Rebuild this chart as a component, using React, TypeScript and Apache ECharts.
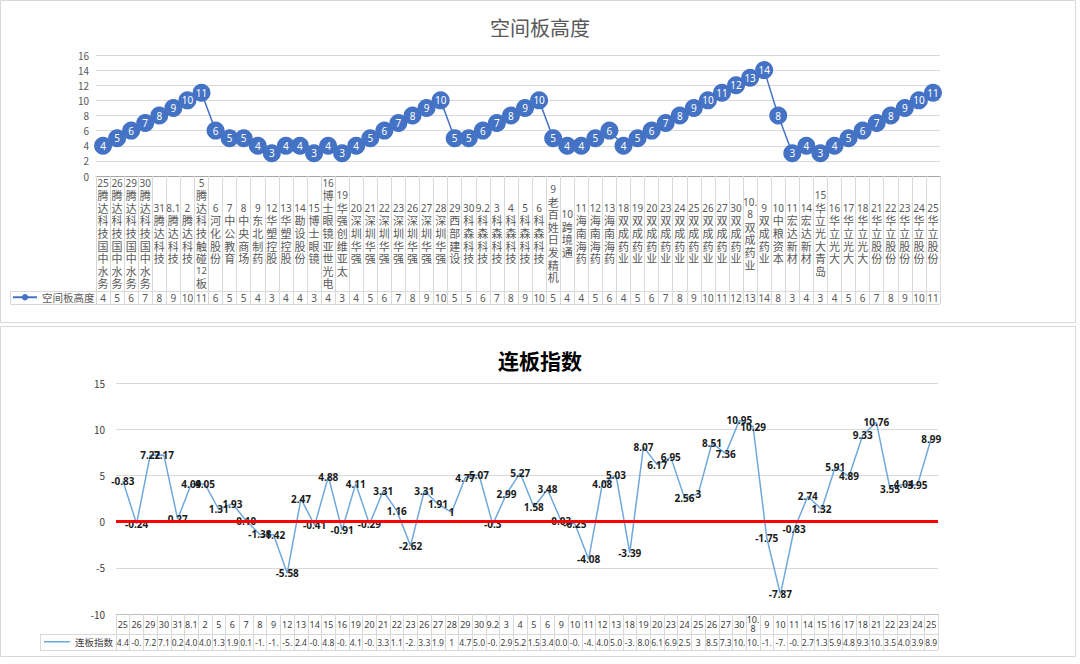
import React, { useEffect, useRef } from "react";
import * as echarts from "echarts";

const dates = ["25","26","29","30","31","8.1","2","5","6","7","8","9","12","13","14","15","16","19","20","21","22","23","26","27","28","29","30","9.2","3","4","5","6","9","10","11","12","13","18","19","20","23","24","25","26","27","30","10.8","9","10","11","14","15","16","17","18","21","22","23","24","25"];

const stocks = [
  "腾达科技国中水务","腾达科技国中水务","腾达科技国中水务","腾达科技国中水务",
  "腾达科技","腾达科技","腾达科技","腾达科技触碰12板",
  "河化股份","中公教育","中央商场","东北制药","华塑控股","华塑控股","勘设股份","博士眼镜","博士眼镜亚世光电",
  "华强创维亚太",
  "深圳华强","深圳华强","深圳华强","深圳华强","深圳华强","深圳华强","深圳华强",
  "西部建设",
  "科森科技","科森科技","科森科技","科森科技","科森科技","科森科技",
  "老百姓日发精机","跨境通",
  "海南海药","海南海药","海南海药",
  "双成药业","双成药业","双成药业","双成药业","双成药业","双成药业","双成药业","双成药业","双成药业",
  "双成药业","双成药业",
  "中粮资本","宏达新材","宏达新材",
  "华立光大青岛","华立光大","华立光大","华立光大",
  "华立股份","华立股份","华立股份","华立股份","华立股份"
];

const heights = [4,5,6,7,8,9,10,11,6,5,5,4,3,4,4,3,4,3,4,5,6,7,8,9,10,5,5,6,7,8,9,10,5,4,4,5,6,4,5,6,7,8,9,10,11,12,13,14,8,3,4,3,4,5,6,7,8,9,10,11];

const indexValues = [4.43,-0.24,7.22,7.17,0.27,4.09,4.05,1.31,1.93,0.10,-1.38,-1.42,-5.58,2.47,-0.41,4.88,-0.91,4.11,-0.29,3.31,1.16,-2.62,3.31,1.91,1,4.77,5.07,-0.3,2.99,5.27,1.58,3.48,0.03,-0.25,-4.08,4.08,5.03,-3.39,8.07,6.17,6.95,2.56,3,8.51,7.36,10.95,10.29,-1.75,-7.87,-0.83,2.74,1.32,5.91,4.89,9.33,10.76,3.55,4.04,3.95,8.99];

const pointLabels = ["-0.83","-0.24","7.22","7.17","0.27","4.09","4.05","1.31","1.93","0.10","-1.38","-1.42","-5.58","2.47","-0.41","4.88","-0.91","4.11","-0.29","3.31","1.16","-2.62","3.31","1.91","1","4.77","5.07","-0.3","2.99","5.27","1.58","3.48","0.03","-0.25","-4.08","4.08","5.03","-3.39","8.07","6.17","6.95","2.56","3","8.51","7.36","10.95","10.29","-1.75","-7.87","-0.83","2.74","1.32","5.91","4.89","9.33","10.76","3.55","4.04","3.95","8.99"];

const heightTicks = [0, 16, 2];
const indexTicks = [-10, 15, 5];

function fmtDate(d: string) {
  return d.length > 3 ? d.slice(0, 3) + "\n" + d.slice(3) : d;
}
function splitName(s: string) {
  const tokens: string[] = [];
  let buf = "";
  for (const ch of s) {
    if (/[0-9]/.test(ch)) {
      buf += ch;
    } else {
      if (buf) { tokens.push(buf); buf = ""; }
      tokens.push(ch);
    }
  }
  if (buf) tokens.push(buf);
  return tokens.map((t) => (/[0-9]/.test(t) ? "{n|" + t + "}" : "{c|" + t + "}")).join("\n");
}

const cats = dates.map((d, i) => d + " " + stocks[i] + " #" + i);

const CJK = "'Noto Sans CJK SC', 'Noto Sans', sans-serif";
const LINE = "#6FA8DC";

export default function App() {
  const ref = useRef<HTMLDivElement>(null);
  useEffect(() => {
    document.body.style.margin = "0";
    const chart = echarts.init(ref.current!, null, { renderer: "svg" });
    const option: any = {
      animation: false,
      backgroundColor: "#fff",
      textStyle: { fontFamily: CJK },
      title: [
        { text: "空间板高度", left: "center", top: 12, textStyle: { fontSize: 20, fontWeight: "normal", color: "#595959", fontFamily: CJK } },
        { text: "连板指数", left: "center", top: 344, textStyle: { fontSize: 21, fontWeight: "bold", color: "#000", fontFamily: CJK } },
      ],
      legend: [
        { data: ["空间板高度"], left: 12, top: 292, itemWidth: 24, itemHeight: 8, itemGap: 4, padding: 0, textStyle: { fontSize: 10.5, color: "#595959", fontFamily: CJK } },
        { data: [{ name: "连板指数", icon: "rect", itemStyle: { color: LINE } }], left: 44, top: 637, itemWidth: 26, itemHeight: 1.5, padding: 0, textStyle: { fontSize: 9.5, color: "#404040", fontFamily: CJK } },
      ],
      grid: [
        { left: 96, right: 140, top: 55, height: 121 },
        { left: 116, right: 142, top: 383, height: 231 },
      ],
      xAxis: [
        {
          gridIndex: 0, type: "category", data: cats, position: "bottom", boundaryGap: true,
          axisLine: { show: true, onZero: false, lineStyle: { color: "#a6a6a6", width: 1 } },
          axisTick: { show: true, interval: 0, length: 128, lineStyle: { color: "#d9d9d9" } },
          axisLabel: {
            interval: 0, margin: 57, verticalAlign: "middle", lineHeight: 12.6, color: "#595959",
            fontFamily: CJK,
            rich: {
              d: { fontSize: 10, lineHeight: 12.6, color: "#595959", fontFamily: "'Noto Sans', sans-serif" },
              n: { fontSize: 9.5, lineHeight: 12.6, color: "#595959", fontFamily: "'Noto Sans', sans-serif" },
              c: { fontSize: 11, lineHeight: 12.6, color: "#595959", fontFamily: CJK },
            },
            formatter: (_v: string, i: number) =>
              fmtDate(dates[i]).split("\n").map((p) => "{d|" + p + "}").join("\n") + "\n" + splitName(stocks[i]),
          },
        },
        {
          gridIndex: 0, type: "category", data: cats, position: "bottom", offset: 115, boundaryGap: true,
          axisLine: { show: false, onZero: false }, axisTick: { show: false },
          axisLabel: { interval: 0, margin: 7, verticalAlign: "middle", fontSize: 10, color: "#595959", fontFamily: "'Noto Sans', sans-serif", formatter: (_v: string, i: number) => String(heights[i]) },
        },
        {
          gridIndex: 1, type: "category", data: cats, position: "bottom", boundaryGap: true,
          axisLine: { show: true, onZero: false, lineStyle: { color: "#bfbfbf" } },
          axisTick: { show: true, interval: 0, length: 36, lineStyle: { color: "#d9d9d9" } },
          axisLabel: { interval: 0, margin: 10, verticalAlign: "middle", lineHeight: 9, fontSize: 9, color: "#404040", fontFamily: "'Noto Sans', sans-serif", formatter: (_v: string, i: number) => fmtDate(dates[i]) },
        },
        {
          gridIndex: 1, type: "category", data: cats, position: "bottom", offset: 20, boundaryGap: true,
          axisLine: { show: false, onZero: false }, axisTick: { show: false },
          axisLabel: { interval: 0, margin: 8, verticalAlign: "middle", fontSize: 8.5, color: "#404040", fontFamily: "'Noto Sans', sans-serif", formatter: (_v: string, i: number) => String(indexValues[i]).slice(0, 3) },
        },
      ],
      yAxis: [
        {
          gridIndex: 0, type: "value", min: heightTicks[0], max: heightTicks[1], interval: heightTicks[2],
          axisLine: { show: false }, axisTick: { show: false },
          axisLabel: { fontSize: 10, color: "#595959", margin: 7 },
          splitLine: { lineStyle: { color: "#d9d9d9" } },
        },
        {
          gridIndex: 1, type: "value", min: indexTicks[0], max: indexTicks[1], interval: indexTicks[2],
          axisLine: { show: false }, axisTick: { show: false },
          axisLabel: { fontSize: 10, color: "#404040", margin: 11 },
          splitLine: { lineStyle: { color: "#d9d9d9" } },
        },
      ],
      series: [
        {
          name: "空间板高度", type: "line", xAxisIndex: 0, yAxisIndex: 0, data: heights,
          symbol: "circle", symbolSize: 18, showSymbol: true, showAllSymbol: true,
          itemStyle: { color: "#4472C4" }, lineStyle: { color: "#4472C4", width: 1.5 },
          label: { show: true, position: "inside", color: "#fff", fontSize: 10, fontFamily: "'Noto Sans', sans-serif" },
          z: 3,
        },
        {
          name: "连板指数", type: "line", xAxisIndex: 2, yAxisIndex: 1, data: indexValues,
          symbol: "circle", symbolSize: 1, showSymbol: true, showAllSymbol: true,
          itemStyle: { color: "rgba(0,0,0,0)" },
          lineStyle: { color: LINE, width: 1.5 },
          label: {
            show: true, position: "inside", color: "#1a1a1a", fontSize: 10, fontWeight: "bold", fontFamily: "'Noto Sans', sans-serif",
            formatter: (p: any) => pointLabels[p.dataIndex],
          },
          markLine: {
            silent: true, symbol: ["none", "none"], label: { show: false },
            lineStyle: { color: "#FF0000", width: 3, type: "solid" },
            data: [{ yAxis: 0 }],
          },
          z: 3,
        },
      ],
      graphic: [
        { type: "rect", shape: { x: 0.5, y: 0.5, width: 1075, height: 322 }, style: { fill: "none", stroke: "#d9d9d9", lineWidth: 1 }, z: -1 },
        { type: "rect", shape: { x: 0.5, y: 326.5, width: 1075, height: 330 }, style: { fill: "none", stroke: "#d9d9d9", lineWidth: 1 }, z: -1 },
        { type: "line", shape: { x1: 10, y1: 291.5, x2: 940, y2: 291.5 }, style: { stroke: "#d9d9d9", lineWidth: 1 } },
        { type: "line", shape: { x1: 10, y1: 304.5, x2: 940, y2: 304.5 }, style: { stroke: "#d9d9d9", lineWidth: 1 } },
        { type: "line", shape: { x1: 10.5, y1: 291.5, x2: 10.5, y2: 304.5 }, style: { stroke: "#d9d9d9", lineWidth: 1 } },
        { type: "line", shape: { x1: 40, y1: 634.5, x2: 938, y2: 634.5 }, style: { stroke: "#d9d9d9", lineWidth: 1 } },
        { type: "line", shape: { x1: 40, y1: 650.5, x2: 938, y2: 650.5 }, style: { stroke: "#d9d9d9", lineWidth: 1 } },
        { type: "line", shape: { x1: 40.5, y1: 634.5, x2: 40.5, y2: 650.5 }, style: { stroke: "#d9d9d9", lineWidth: 1 } },
      ],
    };
    chart.setOption(option);
    return () => chart.dispose();
  }, []);
  return <div ref={ref} style={{ width: 1080, height: 664 }} />;
}
